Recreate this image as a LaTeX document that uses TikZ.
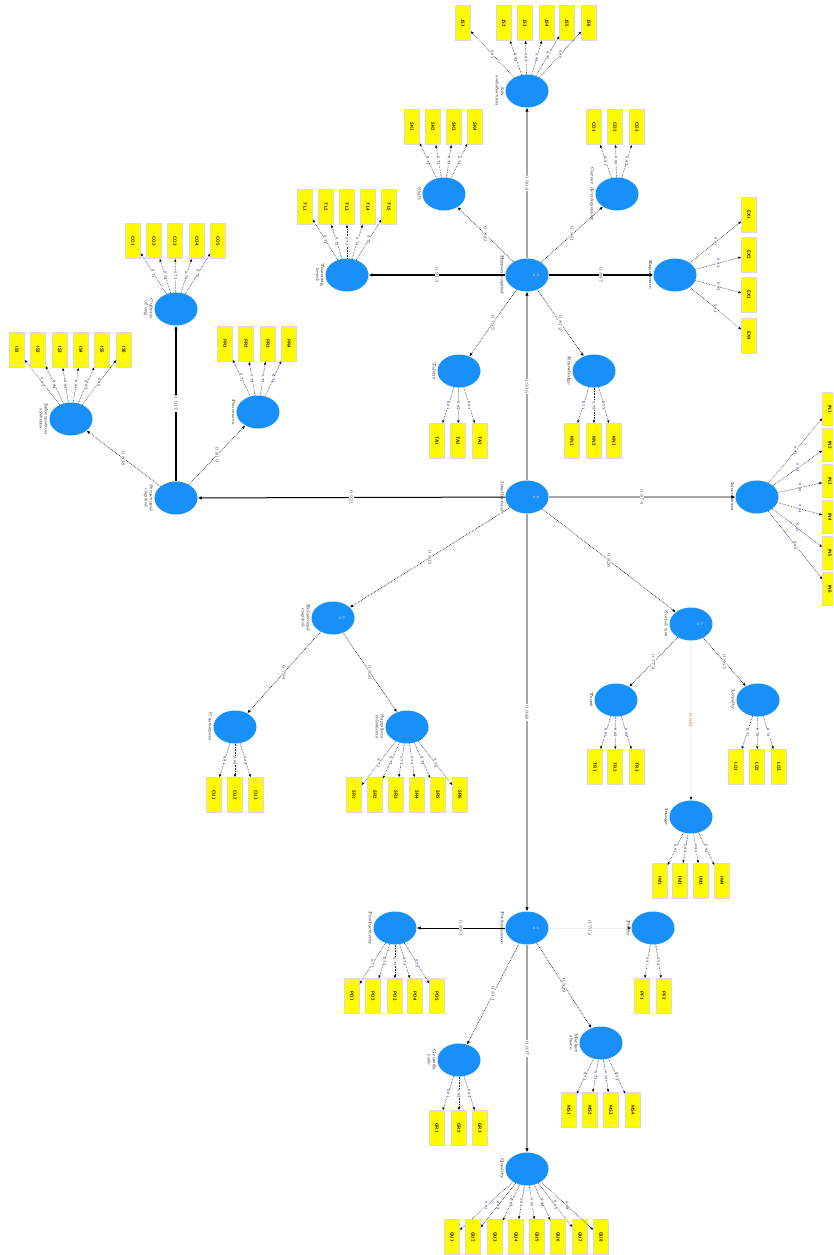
\documentclass[tikz,border=0pt]{standalone}
\usetikzlibrary{arrows.meta,shapes.geometric}
\definecolor{lvblue}{RGB}{24,144,250}
\definecolor{mvyellow}{RGB}{255,250,0}
\tikzset{
  latent/.style={ellipse, fill=lvblue, minimum width=43pt, minimum height=33pt, inner sep=0pt,
                 font=\fontsize{3.5}{4}\selectfont, text=white},
  indic/.style={rectangle, fill=mvyellow, draw=black!15, line width=0.3pt, rotate=-90,
                minimum width=35pt, minimum height=15pt, inner sep=0pt,
                font=\sffamily\bfseries\fontsize{4.5}{5}\selectfont},
  cname/.style={rotate=-90, anchor=north, inner sep=1pt, align=center,
                font=\fontsize{4.5}{5}\selectfont},
  plabel/.style={fill=white, inner sep=0.6pt, rotate=-90, text=black!70,
                 font=\fontsize{4.8}{5}\selectfont},
  llbl/.style={fill=white, inner sep=0pt, rotate=-90, text=black!60!blue,
               font=\fontsize{3.5}{3.5}\selectfont},
  ind/.style={densely dotted, line width=0.6pt, black!85, -{Latex[length=3pt,width=2.6pt,color=black]}},
  dotpath/.style={densely dotted, line width=0.7pt, black!85, -{Latex[length=3.5pt,width=3pt,color=black]}},
  solidpath/.style={line width=1.3pt, -{Latex[length=4pt,width=3.6pt]}},
  graypath/.style={line width=1.8pt, black!35, -{Latex[length=4pt,width=3.6pt,color=black]}},
  faintpath/.style={line width=0.8pt, black!6, -{Latex[length=3.5pt,width=3pt,color=black]}},
}
\begin{document}
\begin{tikzpicture}[x=1pt, y=-1pt]
  \useasboundingbox (0,0) rectangle (833,1255);
  \clip (0,0) rectangle (833,1255);

  % latent variables
  \node[latent] (T)  at (527,91)   {};
  \node[latent] (H1) at (527,275)  {\hspace{18pt}0.9};
  \node[latent] (UL) at (444,194)  {};
  \node[latent] (UR) at (617,194)  {};
  \node[latent] (LF) at (347,275)  {};
  \node[latent] (RT) at (675,275)  {};
  \node[latent] (LL) at (459,371)  {};
  \node[latent] (LR) at (594,371)  {};
  \node[latent] (H0) at (527,497)  {\hspace{18pt}0.8};
  \node[latent] (RC) at (757,497)  {};
  \node[latent] (L)  at (176,498)  {};
  \node[latent] (LU) at (176,309)  {};
  \node[latent] (LA) at (71,419)   {};
  \node[latent] (LB) at (258,412)  {};
  \node[latent] (M)  at (333,618)  {\hspace{18pt}0.7};
  \node[latent] (MA) at (235,727)  {};
  \node[latent] (MB) at (407,727)  {};
  \node[latent] (R)  at (691,624)  {\hspace{18pt}0.7};
  \node[latent] (RA) at (616,700)  {};
  \node[latent] (RB) at (758,700)  {};
  \node[latent] (E)  at (691,817)  {};
  \node[latent] (H2) at (527,928)  {\hspace{18pt}0.6};
  \node[latent] (HL) at (395,928)  {};
  \node[latent] (HR) at (653,928)  {};
  \node[latent] (HA) at (459,1060) {};
  \node[latent] (HB) at (601,1043) {};
  \node[latent] (B)  at (527,1169) {};

  % construct names
  \node[cname] (nT)  at (T.west)  {Job\\satisfaction};
  \node[cname] (nH1) at (H1.west) {Human capital};
  \node[cname] (nUL) at (UL.west) {Skill};
  \node[cname] (nUR) at (UR.west) {Career development};
  \node[cname] (nLF) at (LF.west) {Training\\level};
  \node[cname] (nRT) at (RT.west) {Experience};
  \node[cname] (nLL) at (LL.west) {Talent};
  \node[cname] (nLR) at (LR.west) {Knowledge};
  \node[cname] (nH0) at (H0.west) {Intellectual};
  \node[cname] (nRC) at (RC.west) {Innovation};
  \node[cname] (nL)  at (L.west)  {Structural\\capital};
  \node[cname] (nLU) at (LU.west) {Culture\\of org.};
  \node[cname] (nLA) at (LA.west) {Information\\systems};
  \node[cname] (nLB) at (LB.west) {Processes};
  \node[cname] (nM)  at (M.west)  {Relational\\capital};
  \node[cname] (nMA) at (MA.west) {Customers};
  \node[cname] (nMB) at (MB.west) {Suppliers\\relations};
  \node[cname] (nR)  at (R.west)  {Social net};
  \node[cname] (nRA) at (RA.west) {Trust};
  \node[cname] (nRB) at (RB.west) {Loyalty};
  \node[cname] (nE)  at (E.west)  {Image};
  \node[cname] (nH2) at (H2.west) {Performance};
  \node[cname] (nHL) at (HL.west) {Productivity};
  \node[cname] (nHR) at (HR.west) {Profit};
  \node[cname] (nHA) at (HA.west) {Growth\\rate};
  \node[cname] (nHB) at (HB.west) {Market\\share};
  \node[cname] (nB)  at (B.west)  {Quality};

  % structural paths
  \draw[graypath]  (H1) -- (T)  node[plabel, midway] {0.904};
  \draw[solidpath] (H1) -- (LF) node[plabel, midway] {0.913};
  \draw[solidpath] (H1) -- (RT) node[plabel, midway] {0.887};
  \draw[dotpath]   (H1) -- (UL) node[plabel, midway] {0.842};
  \draw[dotpath]   (H1) -- (UR) node[plabel, midway] {0.861};
  \draw[dotpath]   (H1) -- (LL) node[plabel, midway] {0.795};
  \draw[dotpath]   (H1) -- (LR) node[plabel, midway] {0.812};
  \draw[graypath]  (H0) -- (H1) node[plabel, midway] {0.936};
  \draw[graypath]  (H0) -- (RC) node[plabel, midway] {0.874};
  \draw[solidpath, line width=1pt] (H0) -- (L) node[plabel, midway] {0.921};
  \draw[dotpath]   (H0) -- (M)  node[plabel, midway] {0.803};
  \draw[dotpath]   (H0) -- (R)  node[plabel, midway] {0.826};
  \draw[graypath]  (H0) -- (H2) node[plabel, midway] {0.948};
  \draw[solidpath] (L)  -- (LU) node[plabel, midway] {0.917};
  \draw[dotpath]   (L)  -- (LA) node[plabel, midway] {0.838};
  \draw[dotpath]   (L)  -- (LB) node[plabel, midway] {0.819};
  \draw[dotpath]   (M)  -- (MA) node[plabel, midway] {0.784};
  \draw[dotpath]   (M)  -- (MB) node[plabel, midway] {0.856};
  \draw[dotpath]   (R)  -- (RA) node[plabel, midway] {0.772};
  \draw[dotpath]   (R)  -- (RB) node[plabel, midway] {0.865};
  \draw[faintpath] (R)  -- (E)  node[plabel, midway, text=orange!70!black] {0.641};
  \draw[solidpath, line width=1pt] (H2) -- (HL) node[plabel, midway] {0.893};
  \draw[faintpath] (H2) -- (HR) node[plabel, midway] {0.702};
  \draw[dotpath]   (H2) -- (HA) node[plabel, midway] {0.811};
  \draw[dotpath]   (H2) -- (HB) node[plabel, midway] {0.829};
  \draw[graypath]  (H2) -- (B)  node[plabel, midway] {0.937};

  % indicators
  \foreach \x [count=\i] in {463,504,525,547,567,589} {
    \node[indic] (t\i) at (\x,23) {JS\i};
    \draw[ind] (T) -- (t\i) node[llbl, midway] {0.8\i};
  }
  \foreach \x [count=\i] in {412,433,454,475} {
    \node[indic] (ul\i) at (\x,127) {SK\i};
    \draw[ind] (UL) -- (ul\i) node[llbl, midway] {0.7\i};
  }
  \foreach \x [count=\i] in {594,615,637} {
    \node[indic] (ur\i) at (\x,127) {CD\i};
    \draw[ind] (UR) -- (ur\i) node[llbl, midway] {0.8\i};
  }
  \foreach \x [count=\i] in {305,326,347,368,389} {
    \node[indic] (lf\i) at (\x,207) {TL\i};
    \draw[ind] (LF) -- (lf\i) node[llbl, midway] {0.7\i};
  }
  \foreach \y [count=\i] in {215,255,295,336} {
    \node[indic] (rt\i) at (749,\y) {EX\i};
    \draw[ind] (RT) -- (rt\i) node[llbl, midway] {0.8\i};
  }
  \foreach \x [count=\i] in {437,458,480} {
    \node[indic] (ll\i) at (\x,441) {TA\i};
    \draw[ind] (LL) -- (ll\i) node[llbl, midway] {0.8\i};
  }
  \foreach \x [count=\i] in {572,594,614} {
    \node[indic] (lr\i) at (\x,441) {KN\i};
    \draw[ind] (LR) -- (lr\i) node[llbl, midway] {0.7\i};
  }
  \foreach \y [count=\i] in {409,445,481,517,553,589} {
    \node[indic, minimum width=33pt] (rc\i) at (830,\y) {IN\i};
    \draw[ind] (RC) -- (rc\i) node[llbl, midway] {0.8\i};
  }
  \foreach \x [count=\i] in {133,154,175,197,218} {
    \node[indic] (lu\i) at (\x,241) {CO\i};
    \draw[ind] (LU) -- (lu\i) node[llbl, midway] {0.7\i};
  }
  \foreach \x [count=\i] in {17,38,60,81,102,124} {
    \node[indic] (la\i) at (\x,350) {IS\i};
    \draw[ind] (LA) -- (la\i) node[llbl, midway] {0.8\i};
  }
  \foreach \x [count=\i] in {225,246,268,289} {
    \node[indic] (lb\i) at (\x,344) {PR\i};
    \draw[ind] (LB) -- (lb\i) node[llbl, midway] {0.7\i};
  }
  \foreach \x [count=\i] in {214,235,256} {
    \node[indic] (ma\i) at (\x,795) {CU\i};
    \draw[ind] (MA) -- (ma\i) node[llbl, midway] {0.8\i};
  }
  \foreach \x [count=\i] in {354,375,396,417,438,460} {
    \node[indic] (mb\i) at (\x,795) {SR\i};
    \draw[ind] (MB) -- (mb\i) node[llbl, midway] {0.7\i};
  }
  \foreach \x [count=\i] in {595,615,637} {
    \node[indic] (ra\i) at (\x,767) {TR\i};
    \draw[ind] (RA) -- (ra\i) node[llbl, midway] {0.8\i};
  }
  \foreach \x [count=\i] in {736,757,779} {
    \node[indic] (rb\i) at (\x,767) {LO\i};
    \draw[ind] (RB) -- (rb\i) node[llbl, midway] {0.7\i};
  }
  \foreach \x [count=\i] in {660,680,701,722} {
    \node[indic] (e\i) at (\x,881) {IM\i};
    \draw[ind] (E) -- (e\i) node[llbl, midway] {0.8\i};
  }
  \foreach \x [count=\i] in {352,373,395,415,437} {
    \node[indic] (hl\i) at (\x,996) {PD\i};
    \draw[ind] (HL) -- (hl\i) node[llbl, midway] {0.7\i};
  }
  \foreach \x [count=\i] in {642,664} {
    \node[indic] (hr\i) at (\x,996) {PF\i};
    \draw[ind] (HR) -- (hr\i) node[llbl, midway] {0.9\i};
  }
  \foreach \x [count=\i] in {437,459,480} {
    \node[indic] (ha\i) at (\x,1128) {GR\i};
    \draw[ind] (HA) -- (ha\i) node[llbl, midway] {0.8\i};
  }
  \foreach \x [count=\i] in {569,590,611,633} {
    \node[indic] (hb\i) at (\x,1110) {MS\i};
    \draw[ind] (HB) -- (hb\i) node[llbl, midway] {0.7\i};
  }
  \foreach \x [count=\i] in {452,473,495,516,537,558,580,601} {
    \node[indic] (b\i) at (\x,1237) {QU\i};
    \draw[ind] (B) -- (b\i) node[llbl, midway] {0.8\i};
  }
\end{tikzpicture}
\end{document}
